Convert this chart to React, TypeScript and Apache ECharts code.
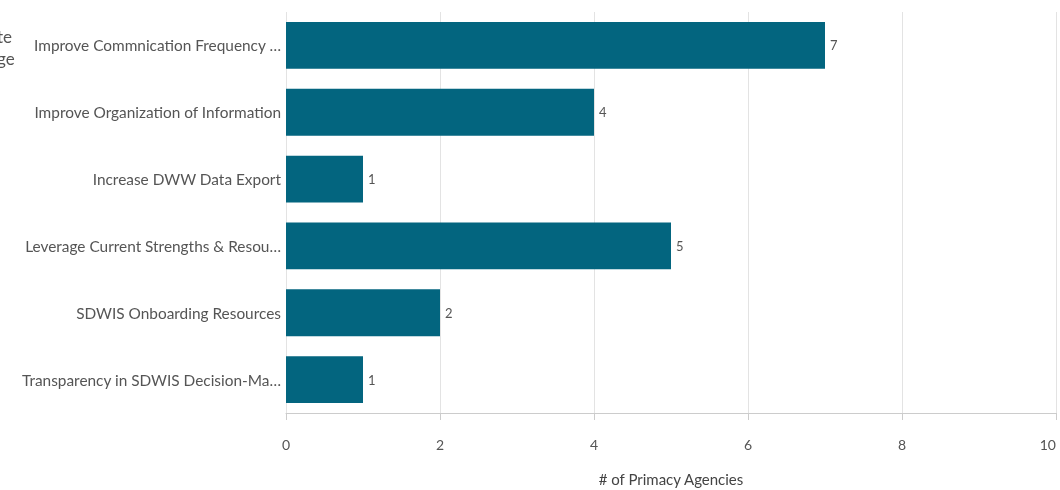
import React, { useEffect, useRef } from "react";
import * as echarts from "echarts";

const categories = [
  "Improve Commnication Frequency …",
  "Improve Organization of Information",
  "Increase DWW Data Export",
  "Leverage Current Strengths & Resou…",
  "SDWIS Onboarding Resources",
  "Transparency in SDWIS Decision-Ma…",
];
const values = [7, 4, 1, 5, 2, 1];
const xTicks = [0, 2, 4, 6, 8, 10];
const axisTitle = "# of Primacy Agencies";
const clippedTitleLines = ["te", "ge"];

const FONT = "Lato, 'Source Sans Pro', 'Noto Sans', sans-serif";

export default function App() {
  const ref = useRef<HTMLDivElement>(null);
  useEffect(() => {
    document.body.style.margin = "0";
    const chart = echarts.init(ref.current!, null, { renderer: "svg" });
    chart.setOption({
      animation: false,
      textStyle: { fontFamily: FONT },
      grid: {
        left: 286,
        right: 4,
        top: 12,
        bottom: 77,
        containLabel: false,
        outerBoundsMode: "none",
      },
      graphic: clippedTitleLines.map((t, i) => ({
        type: "text",
        left: -3,
        top: 28 + i * 22,
        style: { text: t, fontSize: 17, fill: "#555", fontFamily: FONT },
      })),
      xAxis: {
        type: "value",
        min: xTicks[0],
        max: xTicks[xTicks.length - 1],
        interval: 2,
        name: axisTitle,
        nameLocation: "middle",
        nameGap: 58,
        nameTextStyle: { fontSize: 15, color: "#444", fontFamily: FONT },
        axisLine: { show: true, lineStyle: { color: "#cccccc" } },
        axisTick: { show: true, length: 7, lineStyle: { color: "#cccccc" } },
        axisLabel: {
          fontSize: 14,
          color: "#555",
          margin: 24,
          fontFamily: FONT,
          alignMaxLabel: "right",
        },
        splitLine: { show: true, lineStyle: { color: "#e3e3e3" } },
      },
      yAxis: {
        type: "category",
        data: categories,
        inverse: true,
        axisLine: { show: false },
        axisTick: { show: false },
        axisLabel: { fontSize: 15.4, color: "#555", margin: 5, fontFamily: FONT },
      },
      series: [
        {
          type: "bar",
          data: values,
          barCategoryGap: "30%",
          itemStyle: { color: "#03657f" },
          label: {
            show: true,
            position: "right",
            distance: 5,
            fontSize: 13,
            color: "#555",
            fontFamily: FONT,
          },
        },
      ],
    });
    return () => chart.dispose();
  }, []);
  return (
    <div
      ref={ref}
      style={{ position: "fixed", left: 0, top: 0, width: 1060, height: 490 }}
    />
  );
}
